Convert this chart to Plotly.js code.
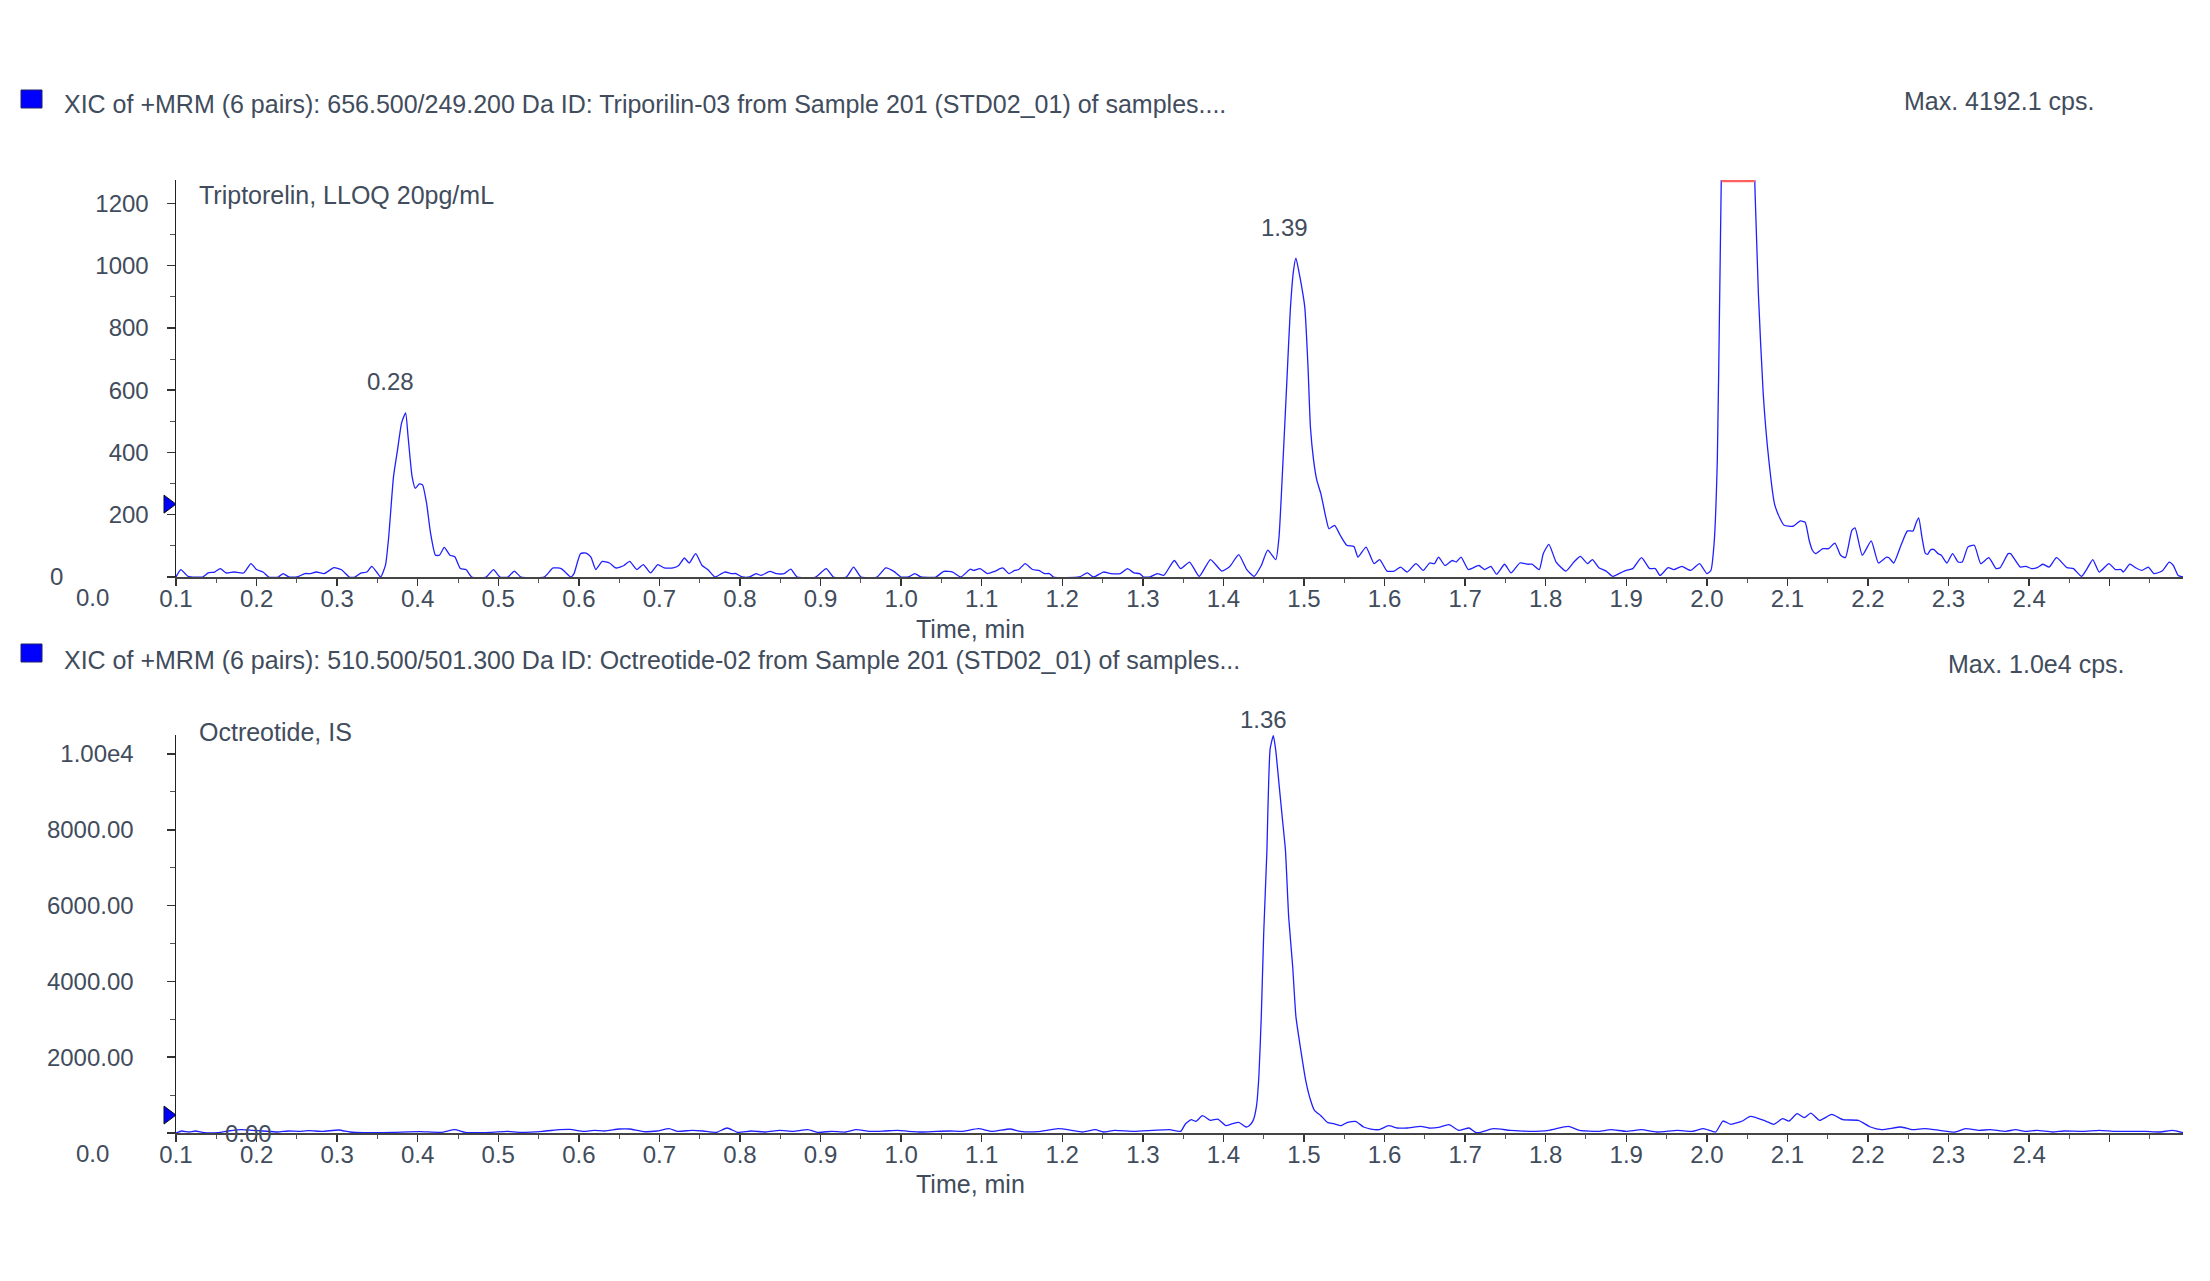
<!DOCTYPE html>
<html>
<head>
<meta charset="utf-8">
<script src="https://cdn.plot.ly/plotly-3.0.1.min.js"></script>
<style>html,body{margin:0;padding:0;background:#fff;}#chart{width:2210px;height:1281px;}</style>
</head>
<body>
<div id="chart"></div>
<script>
// ---------------- DATA ----------------
// Triptorelin XIC (656.500/249.200 Da): retention time (min) and intensity (cps)
const tripTime = [0.000,0.006,0.015,0.033,0.040,0.048,0.055,0.062,0.072,0.084,0.093,0.100,0.108,0.115,0.127,0.133,0.140,0.150,0.160,0.167,0.174,0.184,0.196,0.205,0.215,0.222,0.230,0.237,0.243,0.249,0.254,0.260,0.264,0.270,0.275,0.280,0.285,0.288,0.293,0.297,0.302,0.306,0.311,0.316,0.322,0.327,0.333,0.340,0.346,0.353,0.360,0.367,0.385,0.394,0.402,0.412,0.420,0.428,0.457,0.468,0.478,0.483,0.490,0.494,0.502,0.509,0.515,0.521,0.529,0.538,0.546,0.556,0.563,0.572,0.580,0.589,0.598,0.606,0.617,0.624,0.631,0.637,0.645,0.653,0.660,0.669,0.681,0.690,0.695,0.703,0.712,0.720,0.726,0.737,0.745,0.755,0.763,0.771,0.794,0.807,0.816,0.832,0.841,0.850,0.870,0.881,0.891,0.900,0.909,0.917,0.925,0.943,0.953,0.964,0.974,0.986,0.990,0.998,1.007,1.016,1.026,1.034,1.041,1.046,1.054,1.063,1.071,1.078,1.084,1.089,1.121,1.131,1.139,1.151,1.160,1.172,1.181,1.189,1.196,1.201,1.209,1.218,1.226,1.239,1.247,1.258,1.270,1.284,1.298,1.308,1.319,1.329,1.338,1.347,1.355,1.365,1.369,1.373,1.379,1.383,1.387,1.390,1.395,1.401,1.405,1.408,1.412,1.416,1.421,1.427,1.431,1.438,1.445,1.453,1.462,1.467,1.477,1.487,1.494,1.503,1.512,1.520,1.528,1.539,1.548,1.556,1.562,1.567,1.575,1.584,1.589,1.595,1.604,1.617,1.624,1.632,1.639,1.649,1.657,1.668,1.678,1.683,1.692,1.697,1.704,1.713,1.725,1.735,1.743,1.752,1.758,1.766,1.775,1.783,1.791,1.800,1.808,1.819,1.829,1.836,1.842,1.852,1.859,1.869,1.880,1.891,1.900,1.905,1.909,1.913,1.916,1.925,1.935,1.948,1.957,1.964,1.970,1.977,1.984,1.991,1.996,2.007,2.016,2.022,2.027,2.031,2.035,2.044,2.051,2.059,2.066,2.072,2.080,2.084,2.093,2.104,2.113,2.123,2.126,2.132,2.141,2.149,2.156,2.160,2.163,2.167,2.171,2.174,2.178,2.182,2.187,2.191,2.198,2.205,2.212,2.217,2.224,2.232,2.240,2.250,2.259,2.264,2.274,2.277,2.289,2.296,2.303,2.310,2.317,2.325,2.334,2.347,2.355,2.365,2.372,2.379,2.387,2.399,2.407,2.414,2.417,2.425,2.432,2.440,2.448,2.455,2.465,2.474,2.479,2.485,2.491];
const tripIntensity = [0,24,2,0,13,16,27,13,16,13,43,24,16,0,0,11,0,0,11,11,16,11,30,24,0,0,13,16,34,16,0,38,129,323,409,495,527,452,323,285,299,296,237,140,70,70,95,70,65,27,24,0,0,24,0,0,19,0,0,29,27,16,0,11,75,77,64,24,50,45,29,37,50,24,40,13,40,29,29,37,61,45,75,37,24,0,16,11,11,0,0,11,5,18,11,11,25,0,0,27,0,0,32,0,0,29,18,0,0,11,0,0,18,16,0,25,21,27,11,18,29,11,21,24,43,24,21,11,11,0,0,13,0,16,11,11,27,13,11,0,0,11,5,53,27,48,2,56,19,34,72,24,2,37,86,56,128,321,642,856,984,1024,963,866,674,481,374,310,267,193,155,166,134,102,98,64,96,43,56,19,19,32,16,43,21,45,43,64,37,53,48,64,24,37,24,34,9,41,13,45,41,41,24,75,105,48,19,48,66,43,56,30,19,2,11,21,27,62,27,27,5,30,24,34,21,43,11,21,107,374,909,2600,4192.1,3300,1500,909,588,374,235,187,166,163,180,176,118,86,75,91,91,109,70,62,150,158,70,116,45,64,62,45,102,148,148,176,190,128,77,73,88,88,75,70,45,75,48,48,96,102,43,62,27,30,75,75,32,34,27,30,41,32,62,30,27,2,27,56,16,43,24,24,16,41,30,21,32,11,19,48,37,5,0];

// Octreotide (IS) XIC (510.500/501.300 Da)
const octTime = [0.000,0.007,0.016,0.024,0.035,0.052,0.065,0.082,0.095,0.108,0.126,0.139,0.152,0.165,0.182,0.202,0.216,0.234,0.268,0.303,0.329,0.346,0.359,0.390,0.411,0.428,0.455,0.476,0.489,0.506,0.519,0.532,0.550,0.563,0.580,0.597,0.612,0.623,0.641,0.654,0.671,0.684,0.697,0.714,0.732,0.749,0.766,0.784,0.797,0.814,0.831,0.844,0.861,0.879,0.896,0.909,0.926,0.944,0.961,0.977,0.996,1.013,1.035,1.048,1.069,1.095,1.112,1.125,1.141,1.151,1.165,1.189,1.213,1.233,1.247,1.253,1.260,1.266,1.274,1.284,1.293,1.303,1.311,1.319,1.328,1.332,1.337,1.341,1.344,1.347,1.350,1.354,1.355,1.358,1.362,1.365,1.369,1.373,1.377,1.381,1.386,1.390,1.396,1.402,1.408,1.413,1.421,1.429,1.437,1.446,1.454,1.464,1.474,1.483,1.493,1.505,1.516,1.528,1.545,1.555,1.567,1.580,1.592,1.605,1.613,1.619,1.635,1.656,1.680,1.704,1.728,1.742,1.766,1.781,1.800,1.819,1.838,1.863,1.882,1.896,1.911,1.920,1.930,1.944,1.954,1.973,1.983,1.994,2.002,2.012,2.021,2.029,2.040,2.055,2.069,2.088,2.103,2.117,2.141,2.155,2.170,2.189,2.208,2.221,2.238,2.252,2.271,2.283,2.295,2.310,2.329,2.343,2.367,2.387,2.406,2.425,2.444,2.463,2.478,2.491];
const octIntensity = [0,53,26,53,9,9,53,88,70,53,26,53,44,61,44,79,26,9,18,35,18,88,18,18,44,18,44,88,96,44,70,53,105,105,35,53,114,44,70,53,18,132,18,53,26,70,44,88,18,44,26,88,44,53,70,44,26,44,53,44,114,44,105,44,35,114,70,26,88,26,70,44,70,88,44,246,351,307,456,333,368,193,246,281,158,193,333,702,1491,3070,5263,7456,8333,10132,10480,10088,9211,8333,7456,5702,4386,3070,2193,1404,877,596,456,281,246,193,281,307,158,105,88,193,132,132,175,132,149,219,70,132,18,18,114,70,44,70,175,70,44,88,44,88,26,70,44,114,26,316,228,316,439,316,228,377,316,509,404,526,333,491,351,333,158,88,158,88,114,70,26,114,70,88,44,88,44,70,26,53,44,70,44,44,44,26,70,9];

// Detector saturation segment (top trace) and threshold markers
const satTime = [1.918, 1.960];
const satLevel = [1272, 1272];
const thresholdTop = 234;
const thresholdBottom = 473;

// Peak labels (retention times)
const tripPeaks = [{rt: 0.28, h: 527, label: '0.28'}, {rt: 1.39, h: 1024, label: '1.39'}];
const octPeaks = [{rt: 1.36, h: 10480, label: '1.36'}];

// Axis tick labels
const timeLabelOffset = 0.1;
const xTickLabels = ['0.1','0.2','0.3','0.4','0.5','0.6','0.7','0.8','0.9','1.0','1.1','1.2','1.3','1.4','1.5','1.6','1.7','1.8','1.9','2.0','2.1','2.2','2.3','2.4','2.5'];
const xTickShown = 24; // labels beyond 2.4 are not drawn
const yTopTicks = [0, 200, 400, 600, 800, 1000, 1200];
const yTopTickText = ['', '200', '400', '600', '800', '1000', '1200'];
const yTopMinor = [100, 300, 500, 700, 900, 1100];
const yBotTicks = [0, 2000, 4000, 6000, 8000, 10000];
const yBotTickText = ['', '2000.00', '4000.00', '6000.00', '8000.00', '1.00e4'];
const yBotMinor = [1000, 3000, 5000, 7000, 9000];

const header1 = 'XIC of +MRM (6 pairs): 656.500/249.200 Da ID: Triporilin-03 from Sample 201 (STD02_01) of samples....';
const header2 = 'XIC of +MRM (6 pairs): 510.500/501.300 Da ID: Octreotide-02 from Sample 201 (STD02_01) of samples...';
const max1 = 'Max. 4192.1 cps.';
const max2 = 'Max. 1.0e4 cps.';
const name1 = 'Triptorelin, LLOQ 20pg/mL';
const name2 = 'Octreotide, IS';

// ---------------- LAYOUT ----------------
const W = 2210, H = 1281;
const px = v => v / W;
const py = v => 1 - v / H;
const FONT = 'Liberation Sans, Arial, Helvetica, sans-serif';
const TXT = '#414c5c';
const BLUE = '#2020ff';
const TFS = 25; // text size
const KFS = 24; // tick size

const xTickVals = xTickLabels.map(s => +(parseFloat(s) - timeLabelOffset).toFixed(3));
const xTickText = xTickLabels.map((s, i) => i < xTickShown ? s : '');
const xMinor = xTickVals.map(v => +(v + 0.05).toFixed(3));

const xRange = [0, 2.491];
const xDomain = [px(176), px(2183)];

function xAxis(anchor) {
  return {
    domain: xDomain, range: xRange, anchor: anchor,
    showline: true, linecolor: '#444', linewidth: 2,
    showgrid: false, zeroline: false,
    tickmode: 'array', tickvals: xTickVals, ticktext: xTickText,
    ticks: 'outside', ticklen: 7, tickwidth: 1.5, tickcolor: '#333',
    minor: {tickmode: 'array', tickvals: xMinor, ticks: 'outside', ticklen: 4, tickwidth: 1, tickcolor: '#555'},
    ticklabelstandoff: -8,
    tickfont: {family: FONT, size: KFS, color: TXT}
  };
}
function yAxis(anchor, domain, range, tv, tt, mv, standoff) {
  return {
    domain: domain, range: range, anchor: anchor,
    showline: true, linecolor: '#222', linewidth: 1.5,
    showgrid: false, zeroline: false,
    tickmode: 'array', tickvals: tv, ticktext: tt,
    ticks: 'outside', ticklen: 8, tickwidth: 1.5, tickcolor: '#333',
    minor: {tickmode: 'array', tickvals: mv, ticks: 'outside', ticklen: 5, tickwidth: 1, tickcolor: '#555'},
    ticklabelstandoff: standoff,
    tickfont: {family: FONT, size: KFS, color: TXT}
  };
}

const traces = [
  {x: tripTime, y: tripIntensity, xaxis: 'x', yaxis: 'y', type: 'scatter', mode: 'lines',
   line: {color: BLUE, width: 1.3, shape: 'spline', smoothing: 0.5}, hoverinfo: 'skip'},
  {x: satTime, y: satLevel, xaxis: 'x', yaxis: 'y', type: 'scatter', mode: 'lines',
   line: {color: '#ff6060', width: 2.5}, hoverinfo: 'skip'},
  {x: octTime, y: octIntensity, xaxis: 'x2', yaxis: 'y2', type: 'scatter', mode: 'lines',
   line: {color: BLUE, width: 1.3, shape: 'spline', smoothing: 0.5}, hoverinfo: 'skip'}
];

const txt = (text, x, y, xa, extra) => Object.assign({
  text: text, xref: 'paper', yref: 'paper', x: x, y: y, xanchor: xa, yanchor: 'middle',
  showarrow: false, font: {family: FONT, size: TFS, color: TXT}
}, extra || {});

const annotations = [
  txt(header1, px(62), py(104), 'left'),
  txt(max1, px(1902), py(101), 'left'),
  txt(name1, px(197), py(194.5), 'left'),
  txt('Time, min', px(970), py(628.6), 'center'),
  txt('0', px(56), py(576.7), 'center', {font: {family: FONT, size: KFS, color: TXT}}),
  txt('0.0', px(92), py(597.6), 'center', {font: {family: FONT, size: KFS, color: TXT}}),
  txt(header2, px(62), py(660), 'left'),
  txt(max2, px(1946), py(664), 'left'),
  txt(name2, px(197), py(731.5), 'left'),
  txt('Time, min', px(970), py(1184), 'center'),
  txt('0.0', px(92), py(1153), 'center', {font: {family: FONT, size: KFS, color: TXT}}),
  {text: '0.00', xref: 'x2', yref: 'y2', x: 0.09, y: 0, xanchor: 'center', yanchor: 'middle', showarrow: false,
   font: {family: FONT, size: KFS, color: TXT}}
];
tripPeaks.forEach(p => annotations.push({text: p.label, xref: 'x', yref: 'y', x: p.rt, y: p.h,
  xanchor: 'center', yanchor: 'middle', xshift: -11, yshift: 31, showarrow: false,
  font: {family: FONT, size: KFS, color: TXT}}));
octPeaks.forEach(p => annotations.push({text: p.label, xref: 'x2', yref: 'y2', x: p.rt, y: p.h,
  xanchor: 'center', yanchor: 'middle', xshift: -8, yshift: 16, showarrow: false,
  font: {family: FONT, size: KFS, color: TXT}}));

const square = (y0, y1) => ({type: 'rect', xref: 'paper', yref: 'paper', x0: px(21), x1: px(42), y0: py(y1), y1: py(y0),
  fillcolor: '#0000ff', line: {color: '#222266', width: 1}});
// threshold pointer: a triangle whose tip touches the intensity axis at the threshold level
const pointer = (yr, level) => ({type: 'path', xref: 'paper', yref: yr, xsizemode: 'pixel', ysizemode: 'pixel',
  xanchor: xDomain[0], yanchor: level, path: 'M -12,-9 L 0,0 L -12,9 Z',
  fillcolor: '#0000ff', line: {color: '#111', width: 1}});

const layout = {
  width: W, height: H,
  margin: {l: 0, r: 0, t: 0, b: 0},
  paper_bgcolor: '#ffffff', plot_bgcolor: '#ffffff',
  showlegend: false,
  font: {family: FONT, size: KFS, color: TXT},
  xaxis: xAxis('y'),
  yaxis: yAxis('x', [py(577), py(180)], [0, 1275], yTopTicks, yTopTickText, yTopMinor, 13),
  xaxis2: xAxis('y2'),
  yaxis2: yAxis('x2', [py(1133), py(735)], [0, 10500], yBotTicks, yBotTickText, yBotMinor, 28),
  annotations: annotations,
  shapes: [square(90, 108), square(644, 662), pointer('y', thresholdTop), pointer('y2', thresholdBottom)]
};

Plotly.newPlot('chart', traces, layout, {staticPlot: true, displayModeBar: false});
</script>
</body>
</html>
